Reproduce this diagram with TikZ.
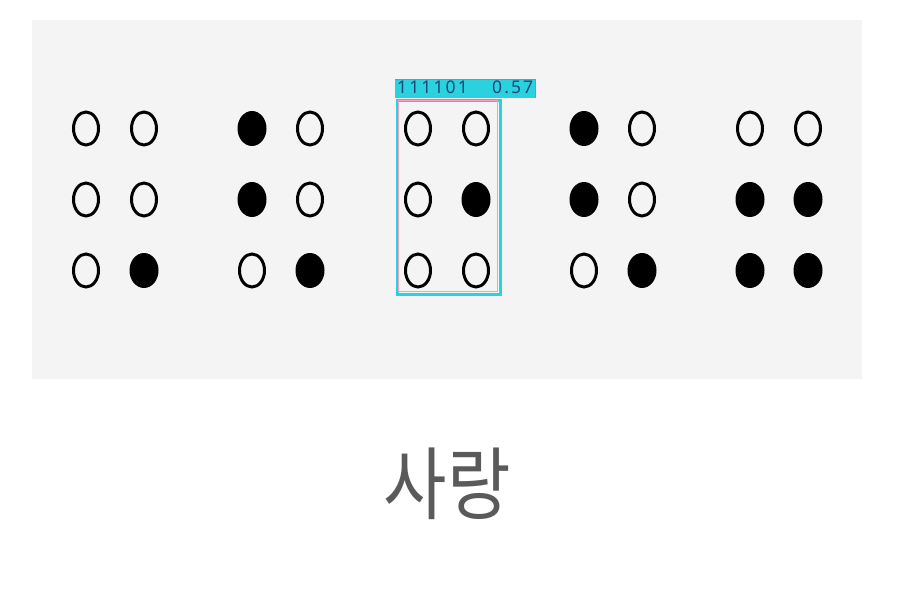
\documentclass[tikz,border=0pt]{standalone}
\usepackage{fontspec}
\setmainfont{Noto Sans}
\newfontfamily\krfont{Noto Sans CJK KR}
\newfontfamily\labfont[LetterSpace=12]{Noto Sans}
\usetikzlibrary{shapes.geometric}
\definecolor{panel}{HTML}{F4F4F4}
\definecolor{boxcyan}{HTML}{2AD2E0}
\definecolor{boxpink}{HTML}{E8609A}
\definecolor{labeltext}{HTML}{1E4775}
\definecolor{titlegrey}{HTML}{5A5A5A}
\tikzset{
  ring/.style={ellipse,draw=black,line width=3pt,minimum width=25pt,minimum height=33pt,inner sep=0pt},
  blob/.style={ellipse,fill=black,minimum width=29pt,minimum height=35pt,inner sep=0pt},
}
\begin{document}
\begin{tikzpicture}[x=1pt,y=-1pt]
\useasboundingbox (0,0) rectangle (900,600);
\fill[white] (0,0) rectangle (900,600);
\node[fill=panel,minimum width=830pt,minimum height=359pt,inner sep=0pt,anchor=north west] (panel) at (32,20) {};
% dots: pattern per group, rows top to bottom, (left,right)
\foreach \g/\pa/\pb/\pc/\pd/\pe/\pf in {1/ring/ring/ring/ring/ring/blob,
  2/blob/ring/blob/ring/ring/blob,
  3/ring/ring/ring/blob/ring/ring,
  4/blob/ring/blob/ring/ring/blob,
  5/ring/ring/blob/blob/blob/blob}{
  \pgfmathsetmacro{\xa}{86+166*(\g-1)}
  \pgfmathsetmacro{\xb}{144+166*(\g-1)}
  \node[\pa] (d\g-1) at (\xa,128.5) {};
  \node[\pb] (d\g-4) at (\xb,128.5) {};
  \node[\pc] (d\g-2) at (\xa,199.5) {};
  \node[\pd] (d\g-5) at (\xb,199.5) {};
  \node[\pe] (d\g-3) at (\xa,270.5) {};
  \node[\pf] (d\g-6) at (\xb,270.5) {};
}
% detection box
\node[draw=boxcyan,line width=3pt,minimum width=103pt,minimum height=194pt,inner sep=0pt,anchor=north west] (det) at (396,99) {};
\draw[boxpink!60!white,line width=0.5pt] (398,100.5) rectangle (497.5,291.5);
\node[fill=boxcyan,minimum width=140pt,minimum height=19pt,inner sep=0pt,anchor=north west] (lab) at (395,79) {};
\draw[boxpink,line width=0.7pt] (lab.north west) -- (lab.north east) -- (lab.south east);
\node[anchor=base west,inner sep=0pt,text=labeltext,font=\labfont\fontsize{17.5}{18}\selectfont] (labtext) at (397,93) {\makebox[136pt][s]{111101\hfill 0.57}};
% title
\node[text=titlegrey,font=\krfont\fontsize{69}{80}\selectfont,inner sep=0pt,yscale=1.15] (title) at (447,484) {사랑};
\end{tikzpicture}
\end{document}
